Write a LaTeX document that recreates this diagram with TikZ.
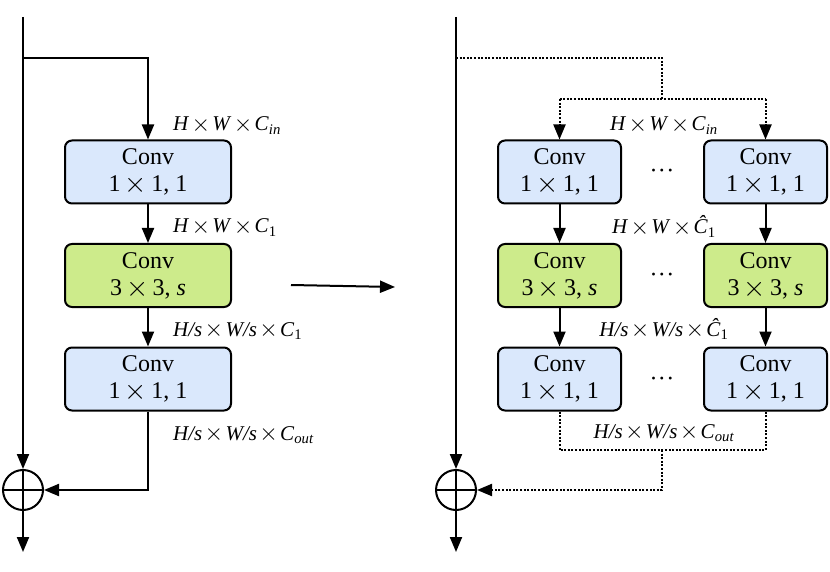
\documentclass[tikz,border=0pt]{standalone}
\usepackage{fontspec}
\setmainfont{Liberation Serif}
\usetikzlibrary{arrows.meta}
\definecolor{convblue}{HTML}{DAE8FC}
\definecolor{convgreen}{HTML}{CDEB8B}
\newcommand{\mm}[1]{\textit{#1}}
\newcommand{\bigtimes}{\smash{\vcenter{\hbox{\scalebox{1.15}{$\times$}}}}}
\newcommand{\tms}{$\mskip3mu\bigtimes\mskip3mu$}
\newcommand{\ltms}{$\mskip2mu\bigtimes\mskip2mu$}
\tikzset{
  convbox/.style={draw, line width=2pt, rounded corners=7pt, minimum height=63pt, align=center, font=\fontsize{24}{27}\selectfont, inner sep=0pt},
  widebox/.style={convbox, minimum width=166pt},
  narrowbox/.style={convbox, minimum width=123pt},
  bluebox/.style={fill=convblue},
  greenbox/.style={fill=convgreen},
  arr/.style={-{Triangle[length=15pt,width=12pt]}, line width=2pt},
  ln/.style={line width=2pt},
  dotln/.style={line width=2pt, dash pattern=on 2pt off 1.6pt},
  lbl/.style={font=\fontsize{21}{24}\selectfont, inner sep=0pt},
  sumnode/.style={draw, circle, line width=2pt, minimum size=40pt, inner sep=0pt},
  dotsnode/.style={font=\fontsize{24}{27}\selectfont, inner sep=0pt}
}
\begin{document}
\begin{tikzpicture}[x=1pt,y=-1pt]
\useasboundingbox (0,0) rectangle (830,572);
% ---------------- left
\node[widebox,bluebox] (a1) at (148,172) {Conv\\1\tms1, 1};
\node[widebox,greenbox] (a2) at (148,275.5) {Conv\\3\tms3, \mm{s}};
\node[widebox,bluebox] (a3) at (148,379) {Conv\\1\tms1, 1};
\node[sumnode] (s1) at (23,490) {};
\draw[ln] (s1.north) -- (s1.south) (s1.west) -- (s1.east);
\coordinate (t1) at (23,17);
\coordinate (b1) at (23,552);
\coordinate (br1) at (23,58);
\coordinate (br2) at (148,58);
\coordinate (r1) at (148,490);
\draw[arr] (t1) -- (s1.north);
\draw[arr] (s1.south) -- (b1);
\draw[arr] (br1) -- (br2) -- (a1.north);
\draw[arr] (a1) -- (a2);
\draw[arr] (a2) -- (a3);
\draw[arr] (a3.south) -- (r1) -- (s1.east);
\node[lbl,anchor=base west] (la1) at (173,131) {\mm{H}\ltms\mm{W}\ltms\mm{C}\textsubscript{\mm{in}}};
\node[lbl,anchor=base west] (la2) at (173,233) {\mm{H}\ltms\mm{W}\ltms\mm{C}\textsubscript{1}};
\node[lbl,anchor=base west] (la3) at (173,336) {\mm{H/s}\ltms\mm{W/s}\ltms\mm{C}\textsubscript{1}};
\node[lbl,anchor=base west] (la4) at (173,440) {\mm{H/s}\ltms\mm{W/s}\ltms\mm{C}\textsubscript{\mm{out}}};
% ---------------- middle arrow
\coordinate (m1) at (291,285);
\coordinate (m2) at (395,287);
\draw[arr] (m1) -- (m2);
% ---------------- right
\node[narrowbox,bluebox] (b11) at (559.5,172) {Conv\\1\tms1, 1};
\node[narrowbox,greenbox] (b12) at (559.5,275.5) {Conv\\3\tms3, \mm{s}};
\node[narrowbox,bluebox] (b13) at (559.5,379) {Conv\\1\tms1, 1};
\node[narrowbox,bluebox] (b21) at (765.5,172) {Conv\\1\tms1, 1};
\node[narrowbox,greenbox] (b22) at (765.5,275.5) {Conv\\3\tms3, \mm{s}};
\node[narrowbox,bluebox] (b23) at (765.5,379) {Conv\\1\tms1, 1};
\node[dotsnode] (d1) at (662,174) {·\kern0.5pt·\kern0.5pt·};
\node[dotsnode] (d2) at (662,278) {·\kern0.5pt·\kern0.5pt·};
\node[dotsnode] (d3) at (662,382) {·\kern0.5pt·\kern0.5pt·};
\node[sumnode] (s2) at (456,490) {};
\draw[ln] (s2.north) -- (s2.south) (s2.west) -- (s2.east);
\coordinate (t2) at (456,17);
\coordinate (b2) at (456,552);
\coordinate (c1) at (456,58);
\coordinate (c2) at (662,58);
\coordinate (c3) at (662,99);
\coordinate (c4) at (559.5,99);
\coordinate (c5) at (765.5,99);
\coordinate (e1) at (559.5,450);
\coordinate (e2) at (765.5,450);
\coordinate (e3) at (662,450);
\coordinate (e4) at (662,490);
\draw[arr] (t2) -- (s2.north);
\draw[arr] (s2.south) -- (b2);
\draw[dotln] (c1) -- (c2) -- (c3);
\draw[dotln] (c4) -- (c5);
\draw[dotln,arr] (c4) -- (b11.north);
\draw[dotln,arr] (c5) -- (b21.north);
\draw[arr] (b11) -- (b12);
\draw[arr] (b12) -- (b13);
\draw[arr] (b21) -- (b22);
\draw[arr] (b22) -- (b23);
\draw[dotln] (b13.south) -- (e1) -- (e2) -- (b23.south);
\draw[dotln,arr] (e3) -- (e4) -- (s2.east);
\node[lbl,anchor=base] (lb1) at (664,131) {\mm{H}\ltms\mm{W}\ltms\mm{C}\textsubscript{\mm{in}}};
\node[lbl,anchor=base] (lb2) at (664,234) {\mm{H}\ltms\mm{W}\ltms\mm{Ĉ}\textsubscript{1}};
\node[lbl,anchor=base] (lb3) at (664,336) {\mm{H/s}\ltms\mm{W/s}\ltms\mm{Ĉ}\textsubscript{1}};
\node[lbl,anchor=base] (lb4) at (664,438) {\mm{H/s}\ltms\mm{W/s}\ltms\mm{C}\textsubscript{\mm{out}}};
\end{tikzpicture}
\end{document}
